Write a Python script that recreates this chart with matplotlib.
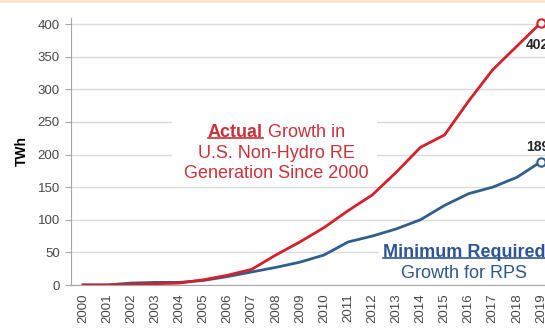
import matplotlib
matplotlib.use("Agg")
import matplotlib.pyplot as plt
from matplotlib.lines import Line2D
from matplotlib.patches import Rectangle
from matplotlib.transforms import IdentityTransform

plt.rcParams["font.family"] = ["Liberation Sans", "DejaVu Sans"]

years = [str(y) for y in range(2000, 2020)]
actual = [0, 0, 1, 2, 3, 8, 15, 24, 46, 66, 88, 114, 138, 173, 211, 230, 282, 330, 366, 402]
required = [0, 0, 3, 4, 4, 7, 13, 20, 27, 35, 46, 66, 75, 86, 100, 122, 140, 150, 165, 189]
yticks = list(range(0, 401, 50))

RED = "#d3212b"
BLUE = "#2f5e8f"
RED_TXT = "#c8323a"
BLUE_TXT = "#2f5590"
GRAY = "#474747"


def mixed_line(ax, x, y, parts, color, size, ha="center"):
    """Draw text pieces side by side; parts = (text, weight, underline)."""
    fig = ax.figure
    renderer = fig.canvas.get_renderer()
    px, py = ax.transData.transform((x, y))
    items = []
    for s, weight, under in parts:
        t = ax.text(0, 0, s, fontsize=size, fontweight=weight, color=color,
                    transform=IdentityTransform(), ha="left", va="center")
        items.append((t, under))
    widths = [t.get_window_extent(renderer).width for t, _ in items]
    total = sum(widths)
    start = px - total / 2 if ha == "center" else px
    for (t, under), w in zip(items, widths):
        t.set_position((start, py))
        if under:
            bb = t.get_window_extent(renderer)
            uy = bb.y0 + 3
            fig.add_artist(Line2D([start / fig.bbox.width, (start + w) / fig.bbox.width],
                                  [uy / fig.bbox.height, uy / fig.bbox.height],
                                  color=color, lw=1.2))
        start += w


fig = plt.figure(figsize=(5.45, 3.29), dpi=100)
ax = fig.add_axes([71 / 545, 1 - 285 / 329, 482 / 545, 267.5 / 329])

x = list(range(len(years)))
ax.plot(x, actual, color=RED, lw=2, zorder=4)
ax.plot(x, required, color=BLUE, lw=2, zorder=3)
ax.plot(x[-1], actual[-1], "o", ms=6, mfc="white", mec=RED, mew=1.5, zorder=5)
ax.plot(x[-1], required[-1], "o", ms=6, mfc="white", mec=BLUE, mew=1.5, zorder=5)

ax.set_xlim(-0.5, len(years) - 0.5)
ax.set_ylim(0, 410)
ax.set_yticks(yticks)
ax.set_xticks(x)
ax.set_xticklabels(years, rotation=90)
ax.tick_params(axis="y", labelsize=9.5, colors=GRAY, length=4, color="#a6a6a6", pad=4)
ax.tick_params(axis="x", labelsize=9.5, colors=GRAY, length=0, pad=6)
ax.grid(axis="y", color="#dadada", lw=1, zorder=0)
ax.set_axisbelow(True)
for side in ["top", "right"]:
    ax.spines[side].set_visible(False)
ax.spines["left"].set_color("#a6a6a6")
ax.spines["bottom"].set_color("#a6a6a6")
ax.set_ylabel("TWh", fontsize=10, fontweight="bold", color="black", labelpad=6)

# white panels behind the annotations (hide gridlines)
ax.add_patch(Rectangle((3.7, 160), 8.5, 102, facecolor="white", edgecolor="none", zorder=1))
ax.add_patch(Rectangle((12.3, 3), 8, 59, facecolor="white", edgecolor="none", zorder=1))

# value labels
ax.text(x[-1] - 0.65, actual[-1] - 34, f"{actual[-1]}", fontsize=10, fontweight="bold",
        color="#262626", ha="left", va="center", zorder=6)
ax.text(x[-1] - 0.6, required[-1] + 22, f"{required[-1]}", fontsize=10, fontweight="bold",
        color="#262626", ha="left", va="center", zorder=6)

fig.canvas.draw()
mixed_line(ax, 8.02, 234, [("Actual", "bold", True), (" Growth in", "normal", False)], RED_TXT, 13)
mixed_line(ax, 8.02, 202, [("U.S. Non-Hydro RE", "normal", False)], RED_TXT, 13)
mixed_line(ax, 8.02, 171, [("Generation Since 2000", "normal", False)], RED_TXT, 13)
mixed_line(ax, 12.45, 50, [("Minimum Required", "bold", True)], BLUE_TXT, 13, ha="left")
mixed_line(ax, 13.2, 18, [("Growth for RPS", "normal", False)], BLUE_TXT, 13, ha="left")

# faint slide border at top
fig.add_artist(Rectangle((0, 1 - 3 / 329), 1, 3 / 329, transform=fig.transFigure,
                         facecolor="#fbe6cf", edgecolor="none"))

fig.savefig("out.png", dpi=100)
